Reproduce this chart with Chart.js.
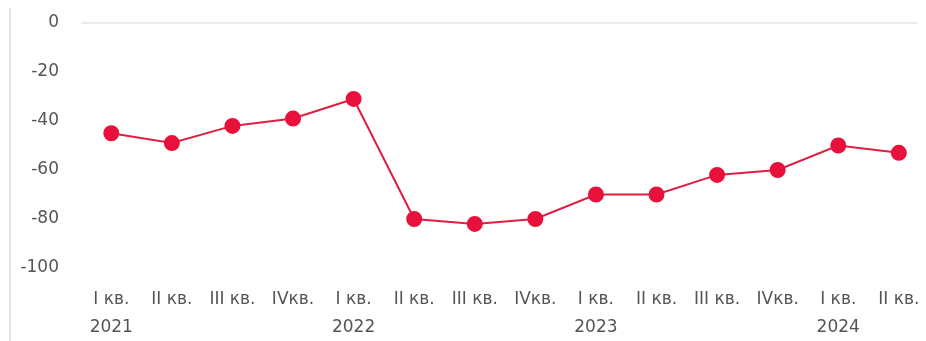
<!DOCTYPE html>
<html>
<head>
<meta charset="utf-8">
<script src="https://cdn.jsdelivr.net/npm/chart.js@4/dist/chart.umd.min.js"></script>
<style>
  html, body { margin: 0; padding: 0; background: #fff; }
  #wrap { position: relative; width: 926px; height: 341px; }
  #edge { position: absolute; left: 9px; top: 8px; bottom: 0; border-left: 2px solid #e4e4e8; }
</style>
</head>
<body>
<div id="wrap">
  <div id="edge"></div>
  <canvas id="myChart" width="926" height="341"></canvas>
</div>
<script>
// quarters and years under each point
const quarters = ["I кв.", "II кв.", "III кв.", "IVкв.", "I кв.", "II кв.", "III кв.", "IVкв.",
                  "I кв.", "II кв.", "III кв.", "IVкв.", "I кв.", "II кв."];
const years = ["2021", "", "", "", "2022", "", "", "", "2023", "", "", "", "2024", ""];
const values = [-45, -49, -42, -39, -31, -80, -82, -80, -70, -70, -62, -60, -50, -53];
const yTicks = [0, -20, -40, -60, -80, -100];

const points = [];
for (i = 0; i < values.length; i++) {
    points.push({ x: i, y: values[i] });
}

Chart.defaults.font.family = "'DejaVu Sans', sans-serif";
Chart.defaults.color = '#555555';

new Chart(document.getElementById("myChart"), {
    type: 'line',
    data: {
        datasets: [{
            data: points,
            borderColor: '#dc1f43',
            borderWidth: 2,
            backgroundColor: '#e8113b',
            pointBackgroundColor: '#e8113b',
            pointBorderColor: '#e8113b',
            pointRadius: 7,
            pointHoverRadius: 7,
            tension: 0
        }]
    },
    options: {
        responsive: false,
        animation: false,
        layout: { padding: { top: 23, right: 0, left: 0, bottom: 0 } },
        plugins: {
            legend: { display: false },
            tooltip: { enabled: false }
        },
        scales: {
            x: {
                type: 'linear',
                min: -0.5,
                max: 13.3,
                grid: { display: false },
                border: { display: false },
                afterFit: function(axis) { axis.height = 73; axis.paddingLeft = 0; axis.paddingRight = 0; },
                ticks: {
                    stepSize: 1,
                    includeBounds: false,
                    autoSkip: false,
                    maxRotation: 0,
                    padding: 10,
                    font: { size: 17, lineHeight: 1.65 },
                    callback: function(v) {
                        if (!Number.isInteger(v) || v < 0 || v >= quarters.length) return '';
                        return years[v] ? [quarters[v], years[v]] : quarters[v];
                    }
                }
            },
            y: {
                min: -100,
                max: 0,
                afterFit: function(axis) { axis.width = 81; axis.paddingTop = 0; axis.paddingBottom = 0; },
                afterBuildTicks: function(axis) {
                    axis.ticks = yTicks.map(function(v) { return { value: v }; });
                },
                border: { display: false },
                grid: {
                    drawTicks: false,
                    color: function(ctx) { return ctx.tick && ctx.tick.value === 0 ? '#ebebeb' : 'rgba(0,0,0,0)'; },
                    lineWidth: 2
                },
                ticks: {
                    padding: 22,
                    font: { size: 17 }
                }
            }
        }
    }
});
</script>
</body>
</html>
